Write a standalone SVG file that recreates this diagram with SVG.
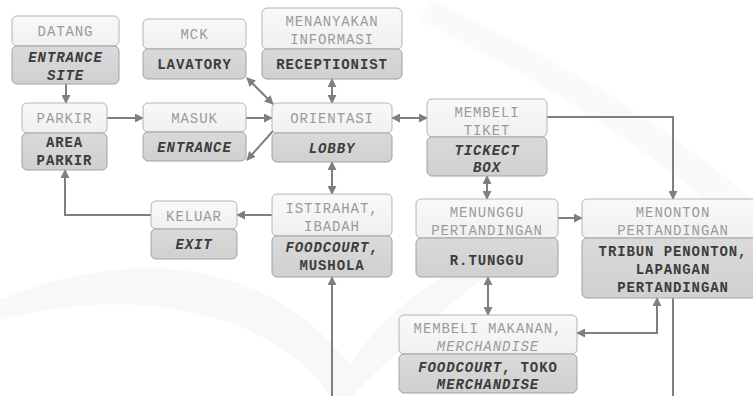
<svg xmlns="http://www.w3.org/2000/svg" width="753" height="396" viewBox="0 0 753 396">
  <defs>
    <marker id="arr" viewBox="0 0 10 10" refX="9" refY="5" markerWidth="9" markerHeight="9" markerUnits="userSpaceOnUse" orient="auto-start-reverse">
      <path d="M0,0 L10,5 L0,10 z" fill="#7f7f7f"/>
    </marker>
    <linearGradient id="gTop" x1="0" y1="0" x2="0" y2="1">
      <stop offset="0" stop-color="#f9f9f9"/>
      <stop offset="1" stop-color="#f0f0f0"/>
    </linearGradient>
    <linearGradient id="gBot" x1="0" y1="0" x2="0" y2="1">
      <stop offset="0" stop-color="#dadada"/>
      <stop offset="1" stop-color="#d0d0d0"/>
    </linearGradient>
  </defs>
  <style>
    .top { fill: url(#gTop); stroke: #b4b4b4; stroke-width: 1; }
    .bot { fill: url(#gBot); stroke: #a2a2a2; stroke-width: 1; }
    .t { font-family: "Liberation Mono", "Courier New", monospace; font-size: 14px; letter-spacing: 0.9px; fill: #9a9a9a; text-anchor: middle; }
    .b { font-family: "Liberation Mono", "Courier New", monospace; font-size: 14px; letter-spacing: 0.9px; font-weight: bold; fill: #3c3c3c; text-anchor: middle; }
    .i { font-style: italic; }
    .ln { fill: none; stroke: #7f7f7f; stroke-width: 2; }
    .mk { marker-end: url(#arr); }
    .mk2 { marker-start: url(#arr); marker-end: url(#arr); }
  </style>

  <!-- faint background emblem -->
  <g id="backdrop" fill="#f8f8f8">
    <path d="M0,300 C120,250 260,250 350,365 C390,300 470,250 560,230 C470,280 420,330 352,396 L330,396 C280,320 150,280 0,320 z"/>
    <path d="M430,0 C560,60 660,120 753,200 L753,240 C650,150 560,90 420,20 z" opacity="0.7"/>
  </g>

  <!-- connectors -->
  <g id="connectors">
    <line class="ln mk" x1="66" y1="84" x2="66" y2="103"/>
    <line class="ln mk" x1="107" y1="118" x2="143" y2="118"/>
    <line class="ln mk" x1="246" y1="118" x2="272" y2="118"/>
    <line class="ln mk2" x1="247" y1="78" x2="273" y2="104"/>
    <line class="ln mk" x1="273" y1="131" x2="247" y2="160"/>
    <line class="ln mk2" x1="332" y1="79" x2="332" y2="103"/>
    <line class="ln mk2" x1="392" y1="118" x2="427" y2="118"/>
    <line class="ln mk2" x1="332" y1="162" x2="332" y2="194"/>
    <line class="ln mk" x1="272" y1="215" x2="237" y2="215"/>
    <polyline class="ln mk" points="151,215 65,215 65,170"/>
    <polyline class="ln mk" points="547,117 673,117 673,199"/>
    <line class="ln mk2" x1="487" y1="176" x2="487" y2="199"/>
    <line class="ln mk" x1="558" y1="218" x2="582" y2="218"/>
    <line class="ln mk2" x1="488" y1="277" x2="488" y2="315"/>
    <polyline class="ln mk2" points="577,333 657,333 657,298"/>
    <line class="ln mk" x1="332" y1="396" x2="332" y2="277"/>
    <line class="ln" x1="673" y1="298" x2="673" y2="396"/>
  </g>

  <g id="datang">
    <rect class="top" x="12" y="16" width="107" height="30" rx="5"/>
    <rect class="bot" x="12" y="46" width="107" height="38" rx="5"/>
    <text class="t" x="65.5" y="36">DATANG</text>
    <text class="b i" x="65.5" y="62">ENTRANCE</text>
    <text class="b i" x="65.5" y="80">SITE</text>
  </g>

  <g id="mck">
    <rect class="top" x="143" y="19" width="103" height="30" rx="5"/>
    <rect class="bot" x="143" y="49" width="103" height="30" rx="5"/>
    <text class="t" x="194.5" y="39">MCK</text>
    <text class="b" x="194.5" y="69">LAVATORY</text>
  </g>

  <g id="informasi">
    <rect class="top" x="262" y="8" width="140" height="41" rx="5"/>
    <rect class="bot" x="262" y="49" width="140" height="30" rx="5"/>
    <text class="t" x="332" y="26">MENANYAKAN</text>
    <text class="t" x="332" y="44">INFORMASI</text>
    <text class="b" x="332" y="69">RECEPTIONIST</text>
  </g>

  <g id="parkir">
    <rect class="top" x="22" y="103" width="85" height="30" rx="5"/>
    <rect class="bot" x="22" y="133" width="85" height="37" rx="5"/>
    <text class="t" x="64.5" y="123">PARKIR</text>
    <text class="b" x="64.5" y="147">AREA</text>
    <text class="b" x="64.5" y="165">PARKIR</text>
  </g>

  <g id="masuk">
    <rect class="top" x="143" y="103" width="103" height="29" rx="5"/>
    <rect class="bot" x="143" y="132" width="103" height="29" rx="5"/>
    <text class="t" x="194.5" y="123">MASUK</text>
    <text class="b i" x="194.5" y="152">ENTRANCE</text>
  </g>

  <g id="orientasi">
    <rect class="top" x="272" y="103" width="120" height="30" rx="5"/>
    <rect class="bot" x="272" y="133" width="120" height="29" rx="5"/>
    <text class="t" x="332" y="123">ORIENTASI</text>
    <text class="b i" x="332" y="153">LOBBY</text>
  </g>

  <g id="tiket">
    <rect class="top" x="427" y="99" width="120" height="38" rx="5"/>
    <rect class="bot" x="427" y="137" width="120" height="39" rx="5"/>
    <text class="t" x="487" y="117">MEMBELI</text>
    <text class="t" x="487" y="135">TIKET</text>
    <text class="b i" x="487" y="155">TICKECT</text>
    <text class="b i" x="487" y="172">BOX</text>
  </g>

  <g id="keluar">
    <rect class="top" x="151" y="201" width="86" height="28" rx="5"/>
    <rect class="bot" x="151" y="229" width="86" height="30" rx="5"/>
    <text class="t" x="194" y="221">KELUAR</text>
    <text class="b i" x="194" y="249">EXIT</text>
  </g>

  <g id="istirahat">
    <rect class="top" x="272" y="194" width="120" height="42" rx="5"/>
    <rect class="bot" x="272" y="236" width="120" height="41" rx="5"/>
    <text class="t" x="332" y="213">ISTIRAHAT,</text>
    <text class="t" x="332" y="231">IBADAH</text>
    <text class="b" x="332" y="252"><tspan class="i">FOODCOURT</tspan>,</text>
    <text class="b" x="332" y="270">MUSHOLA</text>
  </g>

  <g id="menunggu">
    <rect class="top" x="416" y="199" width="142" height="39" rx="5"/>
    <rect class="bot" x="416" y="238" width="142" height="39" rx="5"/>
    <text class="t" x="487" y="217">MENUNGGU</text>
    <text class="t" x="487" y="235">PERTANDINGAN</text>
    <text class="b" x="487" y="265">R.TUNGGU</text>
  </g>

  <g id="menonton">
    <rect class="top" x="582" y="199" width="182" height="39" rx="5"/>
    <rect class="bot" x="582" y="238" width="182" height="60" rx="5"/>
    <text class="t" x="673" y="217">MENONTON</text>
    <text class="t" x="673" y="235">PERTANDINGAN</text>
    <text class="b" x="673" y="256">TRIBUN PENONTON,</text>
    <text class="b" x="673" y="274">LAPANGAN</text>
    <text class="b" x="673" y="292">PERTANDINGAN</text>
  </g>

  <g id="makanan">
    <rect class="top" x="399" y="315" width="178" height="39" rx="5"/>
    <rect class="bot" x="399" y="354" width="178" height="39" rx="5"/>
    <text class="t" x="488" y="333">MEMBELI MAKANAN,</text>
    <text class="t i" x="488" y="351">MERCHANDISE</text>
    <text class="b" x="488" y="372"><tspan class="i">FOODCOURT</tspan>, TOKO</text>
    <text class="b i" x="488" y="389">MERCHANDISE</text>
  </g>
</svg>
